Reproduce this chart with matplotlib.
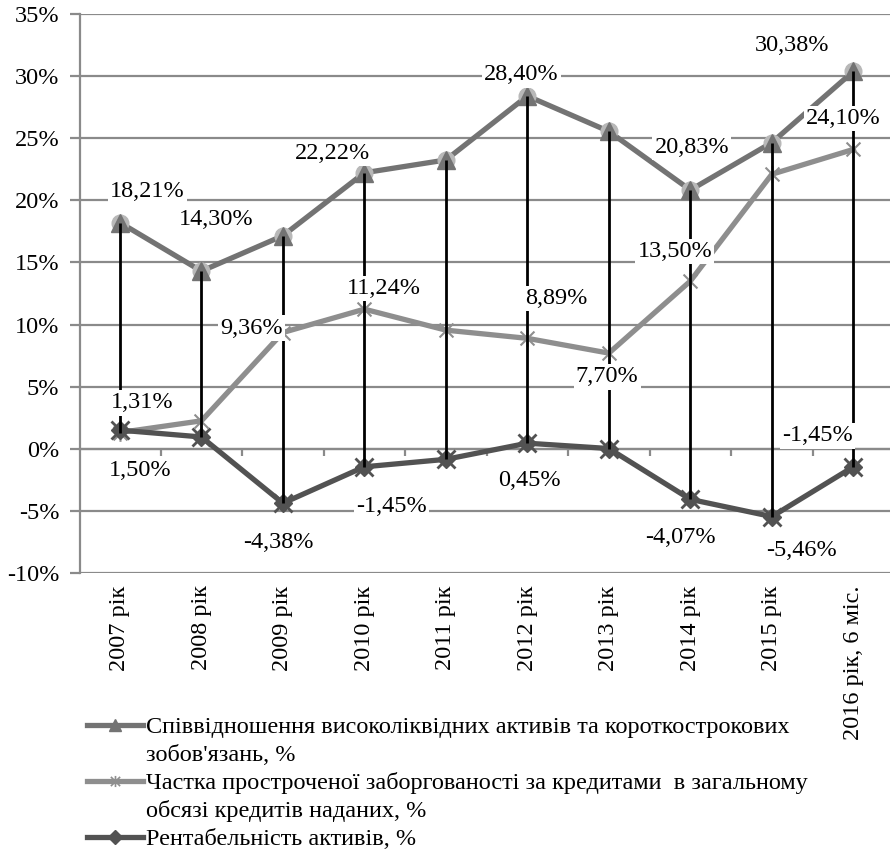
import matplotlib
matplotlib.use('Agg')
import matplotlib.pyplot as plt
import numpy as np
from matplotlib.path import Path
from matplotlib.lines import Line2D

plt.rcParams['font.family'] = ['Liberation Serif', 'DejaVu Serif']

# data
years = ['2007 рік', '2008 рік', '2009 рік', '2010 рік', '2011 рік',
         '2012 рік', '2013 рік', '2014 рік', '2015 рік', '2016 рік, 6 міс.']
liquidity = [18.21, 14.30, 17.15, 22.22, 23.25, 28.40, 25.55, 20.83, 24.65, 30.38]
overdue = [1.31, 2.25, 9.36, 11.24, 9.55, 8.89, 7.70, 13.50, 22.10, 24.10]
roa = [1.50, 0.95, -4.38, -1.45, -0.85, 0.45, 0.02, -4.07, -5.46, -1.45]

names = ['Співвідношення високоліквідних активів та короткострокових\nзобов\'язань, %',
         'Частка простроченої заборгованості за кредитами  в загальному\nобсязі кредитів наданих, %',
         'Рентабельність активів, %']

# which points carry a label: (series, category, dx, dy)
labels = [(0, 0, 0.34, 2.50), (0, 1, 0.18, 4.16), (0, 3, -0.39, 1.54),
          (0, 5, -0.07, 1.70), (0, 7, 0.02, 3.41), (0, 9, -0.75, 2.12),
          (1, 9, -0.12, 2.47), (1, 7, -0.19, 2.39), (1, 3, 0.24, 1.68),
          (1, 2, -0.39, 0.35), (1, 5, 0.36, 3.23), (1, 6, -0.02, -1.92),
          (1, 0, 0.27, 2.38),
          (2, 0, 0.25, -3.27), (2, 2, -0.05, -3.16), (2, 3, 0.33, -3.20),
          (2, 5, 0.02, -3.02), (2, 7, -0.12, -3.07), (2, 8, 0.37, -2.73),
          (2, 9, -0.44, 2.49)]

series = [liquidity, overdue, roa]
colors = ['#737373', '#8e8e8e', '#525252']

star = Path([(-1, -1), (1, 1), (-1, 1), (1, -1), (0, -1.2), (0, 1.2)],
            [Path.MOVETO, Path.LINETO, Path.MOVETO, Path.LINETO, Path.MOVETO, Path.LINETO])

fig = plt.figure(figsize=(8.9, 8.51), dpi=100)
ax = fig.add_axes([80 / 890, 1 - 573 / 851, 810 / 890, (573 - 14) / 851])

x = np.arange(len(years))
fs = 17.5

# lines
ax.plot(x, liquidity, color=colors[0], lw=3.8, zorder=3)
ax.plot(x, liquidity, ls='none', marker='o', ms=12, color='#b8b8b8', zorder=3.5)
ax.plot(x, liquidity, ls='none', marker='^', ms=13, color=colors[0], zorder=4)
ax.plot(x, overdue, color=colors[1], lw=3.8, marker=star, ms=12, mew=1.5,
        mec=colors[1], zorder=3)
ax.plot(x, roa, color=colors[2], lw=3.8, marker='D', ms=9, zorder=3)
ax.plot(x, roa, ls='none', marker='x', ms=13, mew=2, color=colors[2], zorder=3.5)

# high-low lines
arr = np.array(series)
ax.vlines(x, arr.min(axis=0), arr.max(axis=0), color='black', lw=2, zorder=5)

for s, i, dx, dy in labels:
    v = series[s][i]
    txt = f'{v:.2f}'.replace('.', ',') + '%'
    ax.text(i + dx, v + dy, txt, ha='center', va='center', fontsize=fs,
            bbox=dict(facecolor='white', edgecolor='none', pad=1.5), zorder=6)

ax.set_xlim(-0.49, 9.45)
ax.set_ylim(-10, 35)
ticks = np.arange(-10, 36, 5)
ax.set_yticks(ticks)
ax.set_yticklabels([f'{t}%' for t in ticks], fontsize=fs)
ax.yaxis.grid(True, color='#8a8a8a', lw=1.6, zorder=0)
ax.set_axisbelow(True)
for sp in ['top', 'right', 'bottom']:
    ax.spines[sp].set_visible(False)
ax.spines['left'].set_color('#8a8a8a')
ax.spines['left'].set_linewidth(1.6)
ax.tick_params(axis='y', length=7, width=1.6, color='#8a8a8a', pad=8)

ax.set_xticks(x)
ax.set_xticklabels(years, rotation=90, fontsize=fs, va='top')
ax.tick_params(axis='x', length=0, pad=9)

# axis line at zero with category boundary ticks
sec = ax.secondary_xaxis(10 / 45)
sec.spines['bottom'].set_color('#8a8a8a')
sec.spines['bottom'].set_linewidth(1.6)
sec.set_xticks(np.arange(0.5, 9, 1))
sec.set_xticklabels([])
sec.tick_params(length=5, width=1.6, color='#8a8a8a')

# legend, drawn by hand so the key sits on the first text line
markers = [dict(marker='^', ms=9), dict(marker=star, ms=8, mew=1.2), dict(marker='D', ms=7)]
rows = [725, 781, 837]
for name, col, mk, yp in zip(names, colors, markers, rows):
    yf = 1 - yp / 851
    fig.add_artist(Line2D([87 / 890, 143 / 890], [yf, yf], color=col, lw=3.8))
    fig.add_artist(Line2D([115 / 890], [yf], color=col, ls='none', **mk))
    for k, line in enumerate(name.split('\n')):
        fig.text(146 / 890, 1 - (yp + 28 * k + 8) / 851, line, fontsize=fs,
                 va='baseline', ha='left')

fig.savefig('out.png', dpi=100)
